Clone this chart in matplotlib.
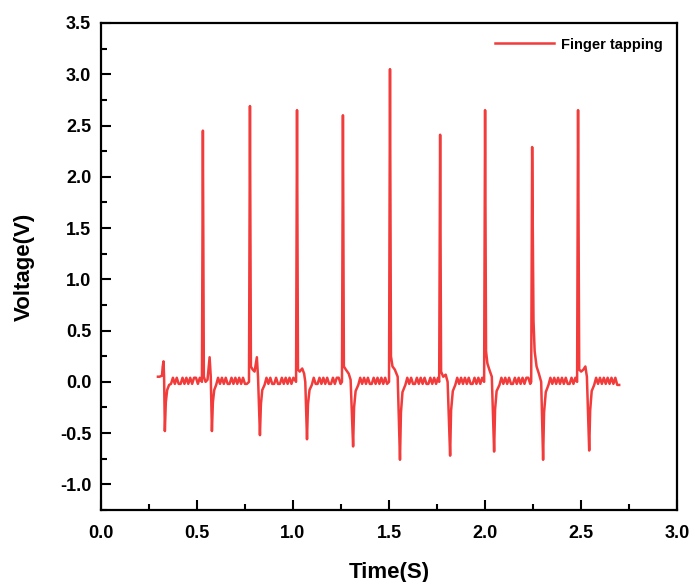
# Finger tapping voltage trace
import matplotlib
matplotlib.use("Agg")
import matplotlib.pyplot as plt
from matplotlib.ticker import MultipleLocator

plt.rcParams['font.family'] = ['Liberation Sans', 'DejaVu Sans']
plt.rcParams['font.weight'] = 'bold'
plt.rcParams['axes.unicode_minus'] = False

# Trace, one segment per tap (time in s, voltage in V)
start_t = [0.297, 0.305, 0.318, 0.322, 0.326, 0.329, 0.333, 0.338, 0.345, 0.355, 0.365]
start_v = [0.05, 0.05, 0.06, 0.15, 0.20, 0.05, -0.48, -0.20, -0.08, -0.03, -0.02]

tap1_t = [0.375, 0.385, 0.395, 0.405, 0.415, 0.425, 0.435, 0.445, 0.455, 0.465, 0.475, 0.485, 0.495, 0.505, 0.515,
          0.526, 0.531, 0.536, 0.545, 0.555, 0.566, 0.572, 0.578, 0.583, 0.590, 0.600]
tap1_v = [0.04, -0.02, 0.04, -0.02, -0.02, 0.04, -0.02, 0.04, -0.02, 0.04, -0.02, 0.04, 0.04, -0.02, 0.04,
          0.0, 2.45, 0.05, 0.0, 0.02, 0.24, 0.05, -0.48, -0.20, -0.08, -0.03]

tap2_t = [0.61, 0.62, 0.63, 0.64, 0.65, 0.66, 0.67, 0.68, 0.69, 0.70, 0.71, 0.72, 0.73, 0.74, 0.75, 0.76,
          0.771, 0.776, 0.781, 0.790, 0.800, 0.812, 0.818, 0.828, 0.833, 0.840, 0.852]
tap2_v = [0.04, -0.02, 0.04, -0.02, 0.04, -0.02, -0.02, 0.04, -0.02, 0.04, -0.02, 0.04, -0.02, 0.04, -0.02, -0.02,
          0.0, 2.69, 0.15, 0.12, 0.10, 0.24, 0.05, -0.52, -0.22, -0.08, -0.03]

tap3_t = [0.862, 0.872, 0.882, 0.892, 0.902, 0.912, 0.922, 0.932, 0.942, 0.952, 0.962, 0.972, 0.982, 0.992, 1.002,
          1.016, 1.021, 1.026, 1.035, 1.048, 1.058, 1.064, 1.073, 1.078, 1.086, 1.098]
tap3_v = [0.04, -0.02, 0.04, -0.02, -0.02, 0.04, -0.02, -0.02, 0.04, -0.02, 0.04, -0.02, 0.04, -0.02, 0.04,
          0.0, 2.65, 0.12, 0.10, 0.13, 0.08, 0.0, -0.56, -0.22, -0.08, -0.03]

tap4_t = [1.108, 1.118, 1.128, 1.138, 1.148, 1.158, 1.168, 1.178, 1.188, 1.198, 1.208, 1.218, 1.228, 1.238, 1.248,
          1.255, 1.260, 1.265, 1.275, 1.290, 1.300, 1.313, 1.318, 1.326, 1.340]
tap4_v = [0.04, -0.02, -0.02, 0.04, -0.02, 0.04, -0.02, 0.04, -0.02, -0.02, 0.04, -0.02, 0.04, 0.04, -0.02,
          0.0, 2.60, 0.15, 0.12, 0.08, 0.02, -0.63, -0.25, -0.09, -0.03]

tap5_t = [1.35, 1.36, 1.37, 1.38, 1.39, 1.40, 1.41, 1.42, 1.43, 1.44, 1.45, 1.46, 1.47, 1.48, 1.49,
          1.500, 1.505, 1.510, 1.518, 1.530, 1.545, 1.557, 1.562, 1.570, 1.585]
tap5_v = [0.04, -0.02, 0.04, -0.02, 0.04, -0.02, -0.02, 0.04, -0.02, 0.04, -0.02, 0.04, -0.02, 0.04, -0.02,
          0.0, 3.05, 0.25, 0.15, 0.12, 0.05, -0.76, -0.30, -0.10, -0.03]

tap6_t = [1.595, 1.605, 1.615, 1.625, 1.635, 1.645, 1.655, 1.665, 1.675, 1.685, 1.695, 1.705, 1.715, 1.725, 1.735, 1.745, 1.755,
          1.761, 1.766, 1.771, 1.782, 1.795, 1.805, 1.818, 1.823, 1.832, 1.845]
tap6_v = [0.04, -0.02, 0.04, -0.02, -0.02, 0.04, -0.02, 0.04, -0.02, 0.04, -0.02, -0.02, 0.04, -0.02, 0.04, -0.02, 0.04,
          0.0, 2.41, 0.10, 0.05, 0.07, 0.0, -0.72, -0.28, -0.09, -0.03]

tap7_t = [1.855, 1.865, 1.875, 1.885, 1.895, 1.905, 1.915, 1.925, 1.935, 1.945, 1.955, 1.965, 1.975, 1.985,
          1.995, 2.000, 2.005, 2.012, 2.022, 2.035, 2.047, 2.052, 2.060, 2.075]
tap7_v = [0.04, -0.02, 0.04, -0.02, 0.04, -0.02, 0.04, -0.02, -0.02, 0.04, -0.02, 0.04, -0.02, 0.04,
          0.0, 2.65, 0.30, 0.18, 0.12, 0.05, -0.68, -0.27, -0.09, -0.03]

tap8_t = [2.085, 2.095, 2.105, 2.115, 2.125, 2.135, 2.145, 2.155, 2.165, 2.175, 2.185, 2.195, 2.205, 2.215, 2.225, 2.235,
          2.240, 2.245, 2.252, 2.258, 2.268, 2.280, 2.292, 2.302, 2.307, 2.316, 2.330]
tap8_v = [0.04, -0.02, 0.04, -0.02, 0.04, -0.02, -0.02, 0.04, -0.02, 0.04, -0.02, 0.04, -0.02, 0.04, 0.04, -0.02,
          0.0, 2.29, 0.60, 0.30, 0.15, 0.08, 0.0, -0.76, -0.30, -0.10, -0.03]

tap9_t = [2.34, 2.35, 2.36, 2.37, 2.38, 2.39, 2.40, 2.41, 2.42, 2.43, 2.44, 2.45, 2.46, 2.47,
          2.479, 2.484, 2.490, 2.500, 2.512, 2.522, 2.530, 2.542, 2.547, 2.555, 2.568]
tap9_v = [0.04, -0.02, 0.04, -0.02, 0.04, -0.02, 0.04, -0.02, 0.04, -0.02, -0.02, 0.04, -0.02, 0.04,
          0.0, 2.65, 0.12, 0.10, 0.12, 0.15, 0.05, -0.67, -0.28, -0.09, -0.03]

end_t = [2.578, 2.588, 2.598, 2.608, 2.618, 2.628, 2.638, 2.648, 2.658, 2.668, 2.678, 2.688, 2.698]
end_v = [0.04, -0.02, 0.04, -0.02, 0.04, -0.02, 0.04, -0.02, 0.04, -0.02, 0.04, -0.03, -0.03]

segments = [(start_t, start_v), (tap1_t, tap1_v), (tap2_t, tap2_v), (tap3_t, tap3_v),
            (tap4_t, tap4_v), (tap5_t, tap5_v), (tap6_t, tap6_v), (tap7_t, tap7_v),
            (tap8_t, tap8_v), (tap9_t, tap9_v), (end_t, end_v)]

time, volt = [], []
for t, v in segments:
    assert len(t) == len(v)
    time += t
    volt += v

fig = plt.figure(figsize=(6.91, 5.82), dpi=100)
ax = fig.add_axes([0.146, 0.1237, 0.834, 0.8368])

ax.plot(time, volt, color='#f23b3b', lw=1.8, label='Finger tapping')

ax.set_xlim(0, 3.0)
ax.set_ylim(-1.25, 3.5)
ax.xaxis.set_major_locator(MultipleLocator(0.5))
ax.xaxis.set_minor_locator(MultipleLocator(0.25))
ax.yaxis.set_major_locator(MultipleLocator(0.5))
ax.yaxis.set_minor_locator(MultipleLocator(0.25))
ax.set_yticks([-1.0, -0.5, 0.0, 0.5, 1.0, 1.5, 2.0, 2.5, 3.0, 3.5])

ax.tick_params(which='both', direction='in', top=False, right=False, width=1.5, labelsize=13)
ax.tick_params(which='major', length=7)
ax.tick_params(which='minor', length=4)
ax.tick_params(axis='y', pad=7)
ax.tick_params(axis='x', pad=11)
for s in ax.spines.values():
    s.set_linewidth(1.6)

ax.set_xlabel('Time(S)', fontsize=16, fontweight='bold', labelpad=14)
ax.set_ylabel('Voltage(V)', fontsize=16, fontweight='bold', labelpad=18)

ax.legend(loc='upper right', frameon=False, handlelength=4, handletextpad=0.5,
          borderaxespad=0.6, prop={'weight': 'bold', 'size': 10.5})

fig.savefig('out.png', dpi=100)
